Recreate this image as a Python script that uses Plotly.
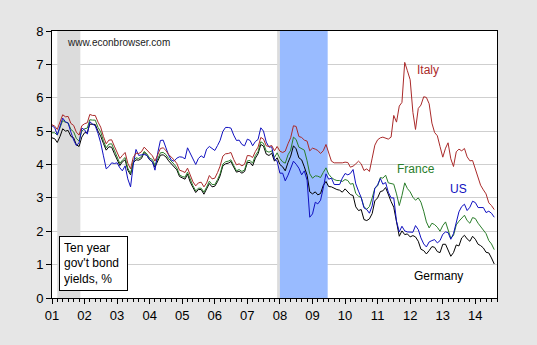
import pandas as pd
import plotly.graph_objects as go

# Monthly ten-year government bond yields, %, 2001M01-2014M08
months = pd.date_range("2001-01-01", "2014-08-01", freq="MS")

us = [
    5.16, 5.10, 4.89, 5.14, 5.39, 5.28, 5.24, 4.97, 4.73, 4.57, 4.65, 5.09,
    5.04, 4.91, 5.28, 5.21, 5.16, 4.93, 4.65, 4.26, 3.87, 3.94, 4.05, 4.03,
    4.05, 3.90, 3.81, 3.96, 3.57, 3.33, 3.98, 4.45, 4.27, 4.29, 4.30, 4.27,
    4.15, 4.08, 3.83, 4.35, 4.72, 4.73, 4.50, 4.28, 4.13, 4.10, 4.19, 4.23,
    4.22, 4.17, 4.50, 4.34, 4.14, 4.00, 4.18, 4.26, 4.20, 4.46, 4.54, 4.47,
    4.42, 4.57, 4.72, 4.99, 5.11, 5.11, 5.09, 4.88, 4.72, 4.73, 4.60, 4.56,
    4.76, 4.72, 4.56, 4.69, 4.75, 5.10, 5.00, 4.67, 4.52, 4.53, 4.15, 4.10,
    3.74, 3.74, 3.51, 3.68, 3.88, 4.10, 4.01, 3.89, 3.69, 3.81, 3.53, 2.42,
    2.52, 2.87, 2.82, 2.93, 3.29, 3.72, 3.56, 3.59, 3.40, 3.39, 3.40, 3.59,
    3.73, 3.69, 3.73, 3.85, 3.42, 3.20, 3.01, 2.70, 2.65, 2.54, 2.76, 3.29,
    3.39, 3.58, 3.41, 3.46, 3.17, 3.00, 3.00, 2.30, 1.98, 2.15, 2.01, 1.98,
    1.97, 1.97, 2.17, 2.05, 1.80, 1.62, 1.53, 1.68, 1.72, 1.75, 1.65, 1.72,
    1.91, 1.98, 1.96, 1.76, 1.93, 2.30, 2.58, 2.74, 2.81, 2.62, 2.72, 2.90,
    2.86, 2.71, 2.72, 2.71, 2.56, 2.60, 2.54, 2.42,
]

germany = [
    4.80, 4.77, 4.66, 4.84, 5.07, 5.00, 5.02, 4.84, 4.80, 4.59, 4.54, 4.82,
    4.95, 4.96, 5.21, 5.20, 5.20, 5.00, 4.85, 4.63, 4.43, 4.53, 4.52, 4.33,
    4.16, 3.97, 4.08, 4.14, 3.83, 3.69, 4.05, 4.14, 4.13, 4.18, 4.36, 4.27,
    4.14, 4.08, 3.92, 4.10, 4.28, 4.29, 4.23, 4.11, 4.02, 3.94, 3.84, 3.64,
    3.59, 3.56, 3.71, 3.47, 3.31, 3.16, 3.25, 3.25, 3.11, 3.26, 3.43, 3.33,
    3.35, 3.49, 3.66, 3.96, 4.02, 4.04, 4.09, 3.92, 3.77, 3.80, 3.74, 3.79,
    4.06, 4.06, 3.96, 4.19, 4.32, 4.60, 4.55, 4.31, 4.27, 4.34, 4.10, 4.20,
    4.00, 3.93, 3.81, 4.06, 4.25, 4.56, 4.47, 4.20, 4.14, 3.93, 3.68, 3.18,
    3.12, 3.18, 3.09, 3.13, 3.37, 3.49, 3.34, 3.33, 3.28, 3.25, 3.23, 3.17,
    3.27, 3.17, 3.10, 3.07, 2.73, 2.62, 2.65, 2.35, 2.32, 2.37, 2.53, 2.91,
    3.00, 3.19, 3.21, 3.31, 3.07, 2.89, 2.72, 2.25, 1.85, 2.01, 1.90, 1.92,
    1.83, 1.87, 1.83, 1.70, 1.46, 1.42, 1.32, 1.42, 1.54, 1.52, 1.39, 1.36,
    1.61, 1.61, 1.41, 1.25, 1.36, 1.59, 1.56, 1.80, 1.88, 1.77, 1.70, 1.85,
    1.76, 1.61, 1.57, 1.50, 1.37, 1.35, 1.20, 1.02,
]

france = [
    4.95, 4.95, 4.88, 5.08, 5.32, 5.26, 5.25, 5.05, 4.98, 4.78, 4.70, 5.00,
    5.07, 5.09, 5.34, 5.33, 5.33, 5.11, 4.98, 4.71, 4.50, 4.61, 4.62, 4.43,
    4.23, 4.03, 4.13, 4.21, 3.89, 3.73, 4.09, 4.20, 4.18, 4.24, 4.39, 4.32,
    4.19, 4.15, 3.98, 4.17, 4.35, 4.36, 4.30, 4.18, 4.10, 4.01, 3.90, 3.69,
    3.64, 3.62, 3.77, 3.53, 3.36, 3.21, 3.29, 3.29, 3.17, 3.32, 3.50, 3.40,
    3.40, 3.55, 3.72, 4.01, 4.08, 4.10, 4.14, 3.97, 3.81, 3.85, 3.79, 3.84,
    4.11, 4.12, 4.04, 4.27, 4.39, 4.68, 4.63, 4.40, 4.37, 4.41, 4.21, 4.35,
    4.18, 4.08, 4.04, 4.29, 4.43, 4.82, 4.75, 4.52, 4.47, 4.43, 4.11, 3.72,
    3.59, 3.66, 3.65, 3.61, 3.76, 3.90, 3.71, 3.61, 3.55, 3.52, 3.52, 3.49,
    3.55, 3.52, 3.41, 3.43, 3.13, 3.05, 3.01, 2.73, 2.66, 2.74, 3.00, 3.29,
    3.36, 3.61, 3.59, 3.68, 3.45, 3.42, 3.41, 3.12, 2.77, 3.07, 3.45, 3.28,
    3.18, 3.02, 2.93, 3.00, 2.87, 2.60, 2.28, 2.10, 2.24, 2.20, 2.12, 2.00,
    2.17, 2.28, 2.06, 1.79, 1.87, 2.19, 2.30, 2.40, 2.48, 2.32, 2.24, 2.41,
    2.38, 2.24, 2.14, 2.02, 1.93, 1.72, 1.62, 1.45,
]

italy = [
    5.19, 5.15, 5.05, 5.27, 5.49, 5.43, 5.44, 5.23, 5.17, 4.97, 4.88, 5.16,
    5.22, 5.25, 5.50, 5.47, 5.47, 5.27, 5.12, 4.84, 4.62, 4.73, 4.74, 4.55,
    4.38, 4.18, 4.27, 4.36, 4.04, 3.87, 4.21, 4.34, 4.33, 4.38, 4.52, 4.44,
    4.35, 4.26, 4.10, 4.28, 4.48, 4.50, 4.42, 4.30, 4.22, 4.14, 4.03, 3.83,
    3.80, 3.76, 3.89, 3.66, 3.48, 3.36, 3.45, 3.47, 3.33, 3.45, 3.67, 3.57,
    3.59, 3.76, 3.95, 4.25, 4.32, 4.33, 4.36, 4.15, 3.99, 4.02, 3.96, 4.01,
    4.27, 4.26, 4.21, 4.39, 4.52, 4.81, 4.76, 4.56, 4.54, 4.57, 4.41, 4.54,
    4.40, 4.36, 4.40, 4.62, 4.80, 5.16, 5.14, 4.84, 4.81, 4.73, 4.70, 4.41,
    4.49, 4.46, 4.42, 4.33, 4.41, 4.60, 4.35, 4.10, 4.05, 4.05, 4.03, 4.05,
    4.07, 4.06, 3.92, 3.95, 4.02, 4.10, 4.02, 3.82, 3.87, 3.79, 4.19, 4.58,
    4.74, 4.80, 4.82, 4.78, 4.76, 4.82, 5.47, 5.27, 5.75, 5.86, 7.06, 6.81,
    6.54, 5.56, 5.05, 5.68, 5.78, 6.03, 6.01, 5.82, 5.24, 4.96, 4.86, 4.54,
    4.22, 4.49, 4.65, 4.17, 3.94, 4.38, 4.46, 4.41, 4.48, 4.23, 4.11, 4.12,
    3.87, 3.66, 3.38, 3.24, 3.12, 2.85, 2.77, 2.65,
]

series = [
    ("Germany", germany, "#000000"),
    ("France", france, "#2a7d2a"),
    ("US", us, "#1010c0"),
    ("Italy", italy, "#aa2a2a"),
]

# Recession periods: NBER (gray) and euro area (blue)
recessions = [
    ("2001-03-01", "2001-11-15", "#dcdcdc"),
    ("2007-12-01", "2008-01-01", "#dcdcdc"),
    ("2008-01-01", "2009-06-20", "#99bbff"),
]

year_ticks = pd.date_range("2001-01-01", "2014-01-01", freq="YS")
year_labels = [f"{d.year % 100:02d}" for d in year_ticks]

fig = go.Figure()
for name, vals, color in series:
    fig.add_trace(go.Scatter(
        x=months, y=vals, mode="lines", name=name,
        line=dict(color=color, width=1),
    ))

for x0, x1, color in recessions:
    fig.add_shape(type="rect", xref="x", yref="y", x0=x0, x1=x1, y0=0, y1=8,
                  fillcolor=color, line=dict(width=0), layer="between")

font = "Liberation Sans, Arial, sans-serif"

labels = [
    ("Italy", "2012-02-20", 6.84, "#aa2a2a"),
    ("France", "2011-07-15", 3.87, "#2a7d2a"),
    ("US", "2013-03-05", 3.27, "#1010c0"),
    ("Germany", "2012-01-25", 0.66, "#000000"),
]
for text, x, y, color in labels:
    fig.add_annotation(x=x, y=y, text=text, showarrow=False, xanchor="left",
                       yanchor="middle", font=dict(family=font, size=12, color=color))

fig.add_annotation(x="2001-05-25", y=7.65, text="www.econbrowser.com", showarrow=False,
                   xanchor="left", yanchor="middle",
                   font=dict(family=font, size=10, color="#222222"))

fig.add_annotation(x="2001-03-20", y=1.86, text="Ten year<br>gov't bond<br>yields, %",
                   showarrow=False, xanchor="left", yanchor="top", align="left",
                   width=59, height=45, borderpad=4,
                   bordercolor="#000000", borderwidth=1, bgcolor="#ffffff",
                   font=dict(family=font, size=12, color="#000000"))

fig.update_layout(
    width=537, height=345,
    margin=dict(l=52, r=40, t=31, b=47),
    paper_bgcolor="#e6e6e6",
    plot_bgcolor="#ffffff",
    showlegend=False,
    font=dict(family=font, size=12, color="#000000"),
)
fig.update_xaxes(
    type="date", range=["2001-01-01", "2014-09-01"],
    tickmode="array", tickvals=year_ticks, ticktext=year_labels,
    ticks="outside", ticklen=5, tickcolor="#000000",
    minor=dict(dtick="M2", tick0="2001-01-01", ticks="outside", ticklen=3,
               tickcolor="#000000", showgrid=False),
    showgrid=False, showline=True, mirror=True, linecolor="#000000", linewidth=1,
    tickfont=dict(family=font, size=13), zeroline=False,
)
fig.update_yaxes(
    range=[0, 8], tickmode="array", tickvals=list(range(0, 9)),
    ticks="outside", ticklen=5, tickcolor="#000000",
    showgrid=True, gridcolor="#cfcfcf", gridwidth=1,
    showline=True, mirror=True, linecolor="#000000", linewidth=1,
    tickfont=dict(family=font, size=13), zeroline=False,
)

fig.write_html("out.html")
